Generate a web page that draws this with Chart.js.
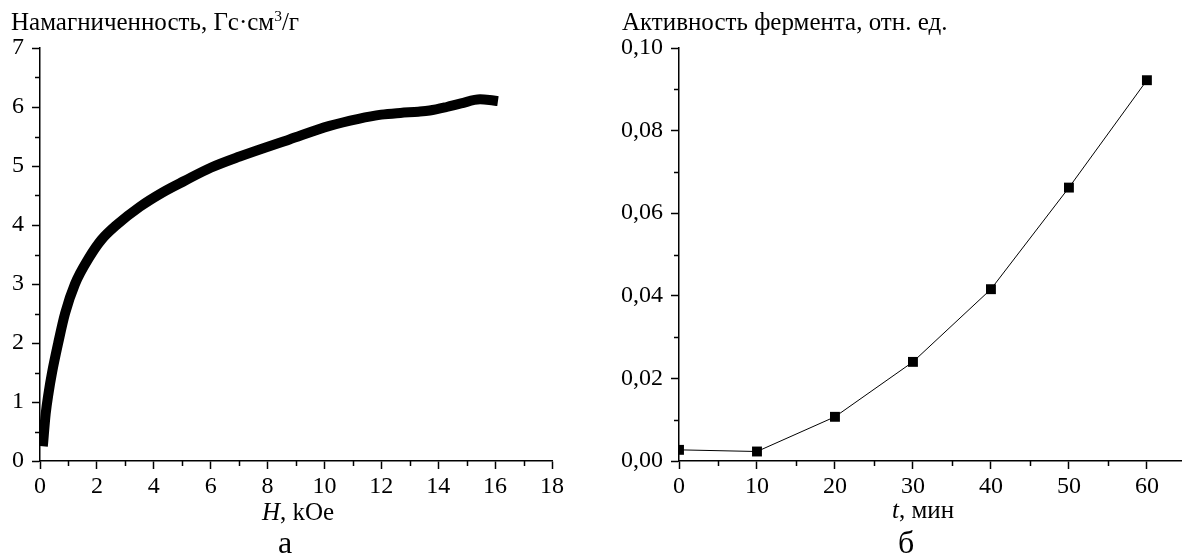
<!DOCTYPE html>
<html>
<head>
<meta charset="utf-8">
<script src="https://cdn.jsdelivr.net/npm/chart.js@4"></script>
<style>
  html, body { margin: 0; padding: 0; background: #fff; }
  body { width: 1182px; height: 554px; position: relative; overflow: hidden; font-family: "Liberation Serif", "Times New Roman", serif; color: #000; }
  .box { position: absolute; top: 0; height: 554px; }
  .lbl { position: absolute; line-height: 1; white-space: nowrap; }
  sup { font-size: 0.62em; vertical-align: 0.55em; line-height: 0; }
</style>
</head>
<body>
<div class="box" style="left:0;width:580px;"><canvas id="c1"></canvas></div>
<div class="box" style="left:580px;width:609px;"><canvas id="c2"></canvas></div>

<div class="lbl" style="left:11px;top:9px;font-size:25px;">Намагниченность, Гс·см<sup>3</sup>/г</div>
<div class="lbl" style="left:622px;top:9px;font-size:25px;">Активность фермента, отн. ед.</div>
<div class="lbl" style="left:262px;top:499px;font-size:25px;"><i>H</i>, kOe</div>
<div class="lbl" style="left:892px;top:497px;font-size:25px;"><i>t</i>, мин</div>
<div class="lbl" style="left:278px;top:526px;font-size:32px;">а</div>
<div class="lbl" style="left:898px;top:526px;font-size:32px;">б</div>

<script>
// ---- Data: magnetization curve (left panel) ----
const fieldH = [0.1, 0.2, 0.3, 0.42, 0.64, 0.88, 1.23, 1.73, 2.16, 2.69, 3.51, 4.3, 5.09, 6.0, 7.02, 8.77, 10.18, 11.2, 12.0, 12.67, 13.3, 13.7, 14.3, 14.8, 15.47, 15.8, 16.1];
const magnetization = [0.25, 0.8, 1.15, 1.49, 2.0, 2.5, 3.0, 3.45, 3.75, 4.0, 4.31, 4.55, 4.75, 4.97, 5.16, 5.45, 5.68, 5.8, 5.87, 5.9, 5.92, 5.94, 6.0, 6.06, 6.13, 6.12, 6.1];
const leftXTicks = [0, 2, 4, 6, 8, 10, 12, 14, 16, 18];
const leftXMinor = [1, 3, 5, 7, 9, 11, 13, 15, 17];
const leftYTicks = [0, 1, 2, 3, 4, 5, 6, 7];
const leftYMinor = [0.5, 1.5, 2.5, 3.5, 4.5, 5.5, 6.5];

// ---- Data: enzyme activity (right panel) ----
const timeMin = [0, 10, 20, 30, 40, 50, 60];
const activity = [0.0027, 0.0023, 0.0107, 0.0240, 0.0416, 0.0662, 0.0922];
const rightXTicks = [0, 10, 20, 30, 40, 50, 60];
const rightXMinor = [5, 15, 25, 35, 45, 55];
const rightYTicks = [0, 0.02, 0.04, 0.06, 0.08, 0.10];
const rightYMinor = [0.01, 0.03, 0.05, 0.07, 0.09];

const FONT = { family: "'Liberation Serif', 'Times New Roman', serif", size: 24 };

const minorTicks = {
  id: 'minorTicks',
  afterDraw(chart, args, opts) {
    const ctx = chart.ctx;
    ctx.save();
    ctx.strokeStyle = '#000';
    ctx.lineWidth = 1.5;
    const xs = chart.scales.x, ys = chart.scales.y;
    ctx.beginPath();
    (opts.x || []).forEach(v => {
      const p = Math.round(xs.getPixelForValue(v)) + 0.5;
      ctx.moveTo(p, xs.top); ctx.lineTo(p, xs.top + 5);
    });
    (opts.y || []).forEach(v => {
      const p = Math.round(ys.getPixelForValue(v)) + 0.5;
      ctx.moveTo(ys.right, p); ctx.lineTo(ys.right - 5, p);
    });
    ctx.stroke();
    ctx.restore();
  }
};

function axis(min, max, ticks, fmt, isY, fitSize) {
  return {
    type: 'linear', min, max,
    afterBuildTicks: s => { s.ticks = ticks.map(v => ({ value: v })); },
    afterFit: s => {
      if (isY) { s.width = fitSize; s.paddingTop = 0; s.paddingBottom = 0; }
      else { s.height = fitSize; s.paddingLeft = 0; s.paddingRight = 0; }
    },
    border: { display: true, color: '#000', width: 1.5 },
    grid: { display: true, drawOnChartArea: false, drawTicks: true, tickLength: 8, tickColor: '#000', tickWidth: 1.5 },
    ticks: { color: '#000', font: FONT, padding: isY ? 8 : 3, autoSkip: false, maxRotation: 0, callback: fmt }
  };
}

new Chart(document.getElementById('c1'), {
  type: 'line',
  data: {
    datasets: [{
      data: fieldH.map((h, i) => ({ x: h, y: magnetization[i] })),
      borderColor: '#000', borderWidth: 10, borderCapStyle: 'butt',
      pointRadius: 0, cubicInterpolationMode: 'monotone', clip: 0, fill: false
    }]
  },
  options: {
    responsive: true, maintainAspectRatio: false, animation: false,
    layout: { padding: { top: 48, right: 28, left: 0, bottom: 0 } },
    plugins: { legend: { display: false }, tooltip: { enabled: false }, minorTicks: { x: leftXMinor, y: leftYMinor } },
    scales: {
      x: axis(0, 18, leftXTicks, v => String(v), false, 93),
      y: axis(0, 7, leftYTicks, v => String(v), true, 40)
    }
  },
  plugins: [minorTicks]
});

new Chart(document.getElementById('c2'), {
  type: 'line',
  data: {
    datasets: [{
      data: timeMin.map((t, i) => ({ x: t, y: activity[i] })),
      borderColor: '#000', borderWidth: 1, pointStyle: 'rect', pointRadius: 7,
      pointBackgroundColor: '#000', pointBorderColor: '#000', pointBorderWidth: 0,
      tension: 0, clip: 0, fill: false
    }]
  },
  options: {
    responsive: true, maintainAspectRatio: false, animation: false,
    layout: { padding: { top: 48, right: 0, left: 0, bottom: 0 } },
    plugins: { legend: { display: false }, tooltip: { enabled: false }, minorTicks: { x: rightXMinor, y: rightYMinor } },
    scales: {
      x: axis(0, 64.5, rightXTicks, v => String(v), false, 93),
      y: axis(0, 0.1, rightYTicks, v => v.toFixed(2).replace('.', ','), true, 99)
    }
  },
  plugins: [minorTicks]
});
</script>
</body>
</html>
